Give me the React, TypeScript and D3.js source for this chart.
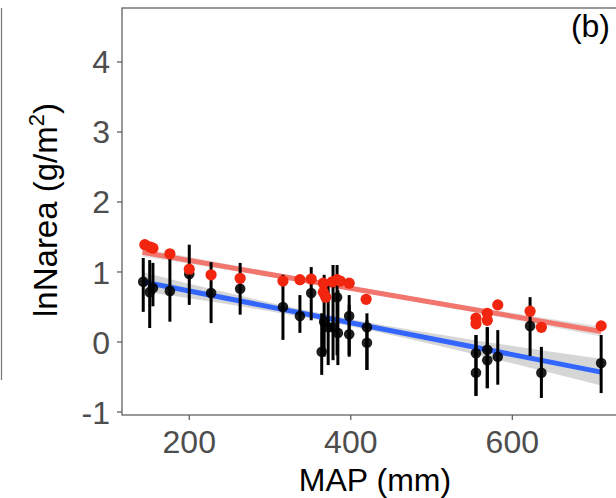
import React from "react";
import * as d3 from "d3";

// ---- data ----
const redX = [145, 151, 155, 176, 200, 227, 263, 316, 337, 351, 366, 366, 369, 377, 383, 387, 398, 419, 555, 555, 569, 569, 582, 622, 636, 710];
const redY = [1.39, 1.36, 1.34, 1.26, 1.04, 0.96, 0.91, 0.87, 0.89, 0.9, 0.84, 0.71, 0.64, 0.86, 0.89, 0.87, 0.84, 0.61, 0.34, 0.26, 0.41, 0.31, 0.53, 0.44, 0.21, 0.23];

const blackX = [143, 151, 155, 176, 200, 227, 263, 316, 337, 351, 364, 367, 372, 378, 383, 384, 398, 398, 420, 420, 555, 555, 569, 569, 582, 622, 636, 710];
const blackY = [0.86, 0.71, 0.77, 0.73, 0.97, 0.7, 0.76, 0.5, 0.37, 0.7, -0.14, 0.29, 0.21, 0.21, 0.64, 0.13, 0.37, 0.11, 0.21, -0.01, -0.16, -0.44, -0.11, -0.26, -0.21, 0.23, -0.44, -0.3];
const blackHi = [1.2, 1.17, 1.13, 1.24, 1.39, 1.14, 1.13, 0.96, 0.67, 1.07, 0.41, 0.96, 0.81, 1.1, 1.1, 0.74, 0.67, 0.53, 0.41, 0.31, 0.1, 0.1, 0.21, 0.21, 0.17, 0.64, -0.07, 0.1];
const blackLo = [0.43, 0.2, 0.51, 0.29, 0.53, 0.27, 0.39, 0.03, 0.13, 0.31, -0.47, -0.21, -0.33, -0.26, -0.19, -0.33, -0.19, -0.21, -0.4, -0.4, -0.77, -0.77, -0.66, -0.66, -0.61, -0.2, -0.8, -0.73];

const fitX = [142, 710];
const redFitY = [1.28, 0.15];
const blueFitY = [0.86, -0.43];

const bandX = [142, 250, 400, 550, 710];
const blueBandHalf = [0.14, 0.08, 0.05, 0.1, 0.19];
const redBandHalf = [0.06, 0.04, 0.03, 0.04, 0.07];

const xTicks = [200, 400, 600];
const yTicks = [-1, 0, 1, 2, 3, 4];

const FONT = "'Liberation Sans', Arial, Helvetica, sans-serif";

export default function App() {
  const W = 616;
  const H = 498;
  const left = 122, right = 624, top = 8, bottom = 415;
  const x = d3.scaleLinear().domain([116.7, 738.3]).range([left, right]);
  const y = d3.scaleLinear().domain([-1.043, 4.771]).range([bottom, top]);

  const fitAt = (fy: number[], xv: number) =>
    d3.scaleLinear().domain(fitX).range(fy)(xv);

  const bandPath = (fy: number[], half: number[]) =>
    d3
      .area<number>()
      .x((_, i) => x(bandX[i]))
      .y0((_, i) => y(fitAt(fy, bandX[i]) - half[i]))
      .y1((_, i) => y(fitAt(fy, bandX[i]) + half[i]))
      .curve(d3.curveMonotoneX)(bandX) as string;

  const linePath = (fy: number[]) =>
    d3
      .line<number>()
      .x((d) => x(d))
      .y((_, i) => y(fy[i]))(fitX) as string;

  return (
    <svg
      width={W}
      height={H}
      style={{ position: "absolute", left: 0, top: 0, background: "#fff" }}
    >
      <defs>
        <clipPath id="panel">
          <rect x={left} y={top} width={right - left} height={bottom - top} />
        </clipPath>
      </defs>
      {/* stray edge of neighbouring panel */}
      <line x1={1.5} x2={1.5} y1={8} y2={380} stroke="#777" strokeWidth={1.2} />

      <g clipPath="url(#panel)">
        <path d={bandPath(blueFitY, blueBandHalf)} fill="#999" opacity={0.4} />
        <path d={bandPath(redFitY, redBandHalf)} fill="#999" opacity={0.3} />
        <path d={linePath(blueFitY)} stroke="#3366FF" strokeWidth={5} fill="none" />
        <path d={linePath(redFitY)} stroke="#F2766E" strokeWidth={5} fill="none" />
        {blackX.map((bx, i) => (
          <line
            key={"eb" + i}
            x1={x(bx)}
            x2={x(bx)}
            y1={y(blackLo[i])}
            y2={y(blackHi[i])}
            stroke="#000"
            strokeWidth={3}
          />
        ))}
        {blackX.map((bx, i) => (
          <circle key={"bp" + i} cx={x(bx)} cy={y(blackY[i])} r={5.3} fill="#000" opacity={0.88} />
        ))}
        {redX.map((rx, i) => (
          <circle key={"rp" + i} cx={x(rx)} cy={y(redY[i])} r={5.6} fill="#F2250F" />
        ))}
      </g>

      <rect
        x={left}
        y={top}
        width={right - left}
        height={bottom - top}
        fill="none"
        stroke="#555"
        strokeWidth={1.2}
      />

      {yTicks.map((t) => (
        <g key={"yt" + t}>
          <line x1={left - 5} x2={left} y1={y(t)} y2={y(t)} stroke="#555" strokeWidth={1.2} />
          <text
            x={left - 12}
            y={y(t)}
            dy="0.36em"
            textAnchor="end"
            fontFamily={FONT}
            fontSize={32}
            fill="#4D4D4D"
          >
            {t}
          </text>
        </g>
      ))}

      {xTicks.map((t) => (
        <g key={"xt" + t}>
          <line x1={x(t)} x2={x(t)} y1={bottom} y2={bottom + 5} stroke="#555" strokeWidth={1.2} />
          <text
            x={x(t)}
            y={453}
            textAnchor="middle"
            fontFamily={FONT}
            fontSize={32}
            fill="#4D4D4D"
          >
            {t}
          </text>
        </g>
      ))}

      <text
        x={375}
        y={491}
        textAnchor="middle"
        fontFamily={FONT}
        fontSize={32}
        fill="#000"
      >
        MAP (mm)
      </text>

      <text
        transform={`translate(57, ${210}) rotate(-90)`}
        textAnchor="middle"
        fontFamily={FONT}
        fontSize={33}
        fill="#000"
      >
        lnNarea (g/m
        <tspan fontSize={22} dy={-13}>
          2
        </tspan>
        <tspan dy={13}>)</tspan>
      </text>

      <text
        x={610}
        y={37}
        textAnchor="end"
        fontFamily={FONT}
        fontSize={32}
        fill="#000"
      >
        (b)
      </text>
    </svg>
  );
}
